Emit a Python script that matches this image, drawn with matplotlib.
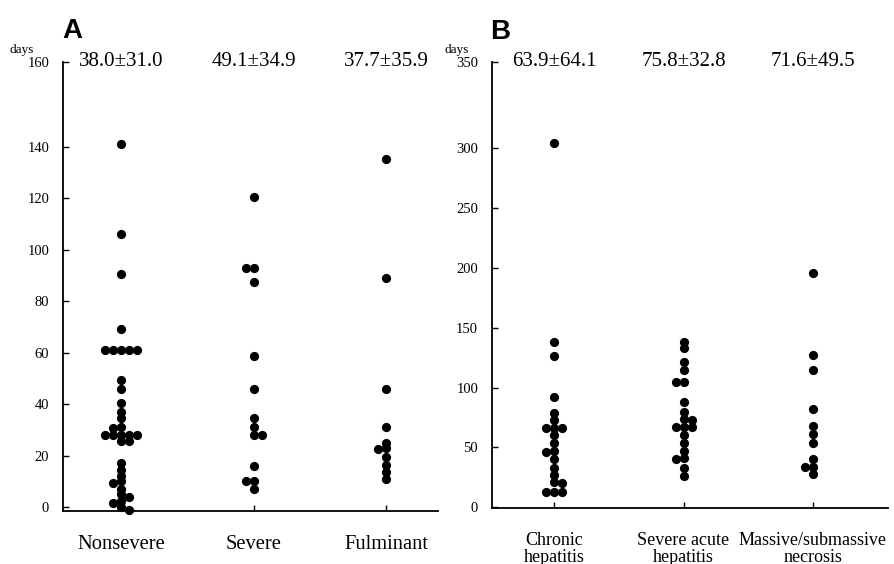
import numpy as np
import matplotlib
matplotlib.use("Agg")
import matplotlib.pyplot as plt
import matplotlib.transforms as mtransforms

# ---- data (days) ----
groups_a = ["Nonsevere", "Severe", "Fulminant"]
nonsevere = [141, 106, 90.5, 69, 61, 61, 61, 61, 61, 49.5, 46, 40.5, 37, 34.5,
             31, 30.5, 28, 28, 28, 28, 28, 25.5, 25.5,
             17, 14.5, 12, 10, 9.5, 7, 5, 4, 2.5, 1.5, 0, -1]
severe = [120.5, 93, 93, 87.5, 58.5, 46, 34.5, 31, 28, 28, 16, 10, 10, 7]
fulminant = [135, 89, 46, 31, 25, 23, 22.5, 19.5, 16.5, 13.5, 11]
stats_a = ["38.0\u00b131.0", "49.1\u00b134.9", "37.7\u00b135.9"]

groups_b = ["Chronic\nhepatitis", "Severe acute\nhepatitis", "Massive/submassive\nnecrosis"]
chronic = [304, 138, 126, 92.5, 79, 73, 66.5, 66.5, 66.5, 60, 54, 47, 46, 40,
           33, 27, 21, 20, 13, 13, 13]
sev_acute = [138, 133, 121, 115, 105, 105, 88, 80, 74, 73, 67, 67, 67, 60, 54,
             47, 41, 40, 33, 26]
massive = [196, 127.5, 115, 82, 68, 61, 54, 40, 34, 34, 27.5]
stats_b = ["63.9\u00b164.1", "75.8\u00b132.8", "71.6\u00b149.5"]

plt.rcParams['font.family'] = ['Liberation Serif', 'DejaVu Serif']

W, H = 895, 564
fig = plt.figure(figsize=(W / 100, H / 100), dpi=100)


def px_axes(l, r, b, t):
    return fig.add_axes([l / W, 1 - b / H, (r - l) / W, (b - t) / H])


def swarm(vals, ax, diam=5.0, step=8.0):
    # simple beeswarm: offsets in pixels, converted back to data units
    x0, x1 = ax.get_xlim()
    y0, y1 = ax.get_ylim()
    bb = ax.get_position()
    pxx = bb.width * W / (x1 - x0)
    pxy = bb.height * H / (y1 - y0)
    order = np.argsort(-np.asarray(vals), kind="stable")
    placed = []
    offs = np.zeros(len(vals))
    flip = -1
    for i in order:
        y = vals[i] * pxy
        cands = [0]
        for n in range(1, 6):
            cands += [flip * n, -flip * n]
        for c in cands:
            x = c * step
            if all(np.hypot(x - px, y - py) >= diam for px, py in placed):
                break
        if c != 0:
            flip = -flip
        placed.append((x, y))
        offs[i] = x / pxx
    return offs


def panel(ax, data, labels, stats, ylim, xlim, ticks, ticklabels, fs_x):
    ax.set_xlim(*xlim)
    ax.set_ylim(*ylim)
    for s in ["top", "right"]:
        ax.spines[s].set_visible(False)
    for s in ["left", "bottom"]:
        ax.spines[s].set_linewidth(1.3)
    ax.set_yticks(ticks)
    ax.set_yticklabels(ticklabels, fontsize=10.5)
    ax.set_xticks([1, 2, 3])
    ax.set_xticklabels(labels, fontsize=fs_x, linespacing=1.0)
    ax.tick_params(axis="y", direction="in", length=4, width=1, pad=10)
    ax.tick_params(axis="x", direction="in", length=4, width=1, pad=17)
    for i, vals in enumerate(data):
        off = swarm(vals, ax)
        ax.scatter(np.full(len(vals), i + 1) + off, vals, s=44, color="black",
                   linewidths=0, zorder=3, clip_on=False)
    trans = mtransforms.blended_transform_factory(ax.transData, ax.transAxes)
    for i, t in enumerate(stats):
        ax.text(i + 1, 1.0, t, transform=trans, ha="center", va="center", fontsize=15)


ax_a = px_axes(63, 438, 511, 62)
top_a = (507 - 62) / 2.575
panel(ax_a, [nonsevere, severe, fulminant], groups_a, stats_a,
      (-1.55, top_a), (0.56, 3.39),
      [0, 20, 40, 60, 80, 100, 120, 140, top_a],
      ["0", "20", "40", "60", "80", "100", "120", "140", "160"], 14.8)

ax_b = px_axes(492, 888, 508, 62)
top_b = (508 - 62) / 1.2
panel(ax_b, [chronic, sev_acute, massive], groups_b, stats_b,
      (-0.5, top_b), (0.52, 3.58),
      [0, 50, 100, 150, 200, 250, 300, top_b],
      ["0", "50", "100", "150", "200", "250", "300", "350"], 13)

fig.text(22 / W, 1 - 50 / H, "days", fontsize=9.5, ha="center", va="center")
fig.text(457 / W, 1 - 50 / H, "days", fontsize=9.5, ha="center", va="center")
fig.text(72 / W, 1 - 31 / H, "A", fontsize=20, fontweight="bold",
         family=["Liberation Sans", "DejaVu Sans"], ha="center", va="center")
fig.text(500 / W, 1 - 32 / H, "B", fontsize=20, fontweight="bold",
         family=["Liberation Sans", "DejaVu Sans"], ha="center", va="center")

fig.savefig("out.png", dpi=100)
